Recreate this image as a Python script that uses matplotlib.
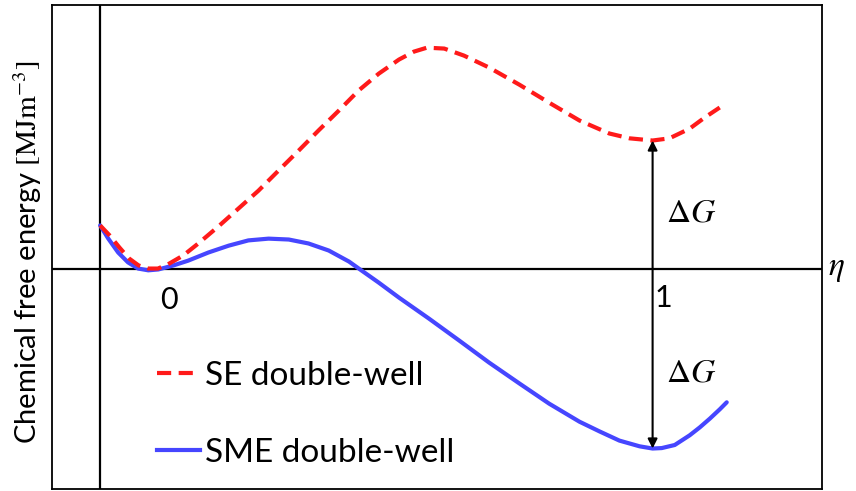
import numpy as np
import matplotlib
matplotlib.use("Agg")
import matplotlib.pyplot as plt
from matplotlib.lines import Line2D

plt.rcParams['font.family'] = ['Lato', 'DejaVu Sans']
plt.rcParams['mathtext.fontset'] = 'stix'

# Order parameter eta and chemical free energy of the two double-well forms
se_eta = [-0.10, -0.08, -0.06, -0.04, -0.02, 0.00, 0.02, 0.04, 0.073, 0.104,
          0.146, 0.1875, 0.229, 0.271, 0.3125, 0.354, 0.396, 0.4375, 0.479,
          0.521, 0.552, 0.579, 0.615, 0.656, 0.708, 0.771, 0.833, 0.896,
          0.958, 1.00, 1.048, 1.083, 1.125, 1.156, 1.1875]
se_energy = [0.99, 0.76, 0.49, 0.24, 0.08, 0.01, 0.01, 0.10, 0.31, 0.58,
             0.97, 1.375, 1.78, 2.24, 2.69, 3.15, 3.60, 4.06, 4.44,
             4.76, 4.94, 5.03, 5.01, 4.85, 4.58, 4.19, 3.78, 3.375,
             3.08, 2.97, 2.92, 2.97, 3.19, 3.44, 3.67]

sme_eta = [-0.10, -0.083, -0.0625, -0.042, -0.021, 0.00, 0.021, 0.052, 0.083,
           0.125, 0.167, 0.208, 0.25, 0.292, 0.333, 0.375, 0.417, 0.4375,
           0.479, 0.521, 0.583, 0.646, 0.708, 0.771, 0.833, 0.896, 0.9375,
           0.979, 1.021, 1.048, 1.067, 1.094, 1.125, 1.146, 1.167, 1.1875,
           1.202]
sme_energy = [0.99, 0.69, 0.375, 0.15, 0.01, -0.03, -0.01, 0.08, 0.19,
              0.375, 0.53, 0.65, 0.69, 0.67, 0.58, 0.42, 0.17, 0.01,
              -0.31, -0.65, -1.125, -1.625, -2.125, -2.60, -3.06, -3.47, -3.69,
              -3.90, -4.03, -4.08, -4.07, -4.00, -3.78, -3.60, -3.40, -3.19,
              -3.03]

series_labels = ["SE double-well", "SME double-well"]
tick_labels = ["0", "1"]

red = "#ff1a1a"
blue = "#4646ff"

fig = plt.figure(figsize=(8.56, 4.91), dpi=100)
ax = fig.add_axes([52 / 856, 2 / 491, 770 / 856, 484 / 491])
ax.set_xlim(-0.2, 1.4)
ax.set_ylim(-5, 6)
ax.set_xticks([])
ax.set_yticks([])
for s in ax.spines.values():
    s.set_linewidth(1.3)
    s.set_color("black")

# coordinate axes through the origin of the diagram
ax.axhline(0, color="black", lw=1.6, zorder=1)
ax.axvline(-0.1, color="black", lw=1.6, zorder=1)

ax.plot(sme_eta, sme_energy, color=blue, lw=3.0, solid_capstyle="round",
        solid_joinstyle="round", zorder=3)
ax.plot(se_eta, se_energy, color=red, lw=3.0, dashes=(3.4, 1.8), zorder=4)

# driving force arrows at the second well
i_se = int(np.argmin(se_energy[20:])) + 20
i_sme = int(np.argmin(sme_energy))
arrow_kw = dict(arrowstyle="-|>", color="black", lw=1.5,
                mutation_scale=14, shrinkA=0, shrinkB=0)
ax.annotate("", xy=(se_eta[i_se], se_energy[i_se]), xytext=(se_eta[i_se], 0),
            arrowprops=arrow_kw, zorder=5)
ax.annotate("", xy=(sme_eta[i_sme], sme_energy[i_sme]), xytext=(sme_eta[i_sme], 0),
            arrowprops=arrow_kw, zorder=5)

ax.text(1.075, 1.28, r"$\Delta G$", fontsize=24, ha="left", va="center")
ax.text(1.075, -2.35, r"$\Delta G$", fontsize=24, ha="left", va="center")

ax.text(1.4 + 0.012, 0.0, r"$\eta$", fontsize=24, ha="left", va="center",
        clip_on=False)

ax.text(0.042, -0.7, tick_labels[0], fontsize=22, ha="center", va="center")
ax.text(1.07, -0.65, tick_labels[1], fontsize=22, ha="center", va="center")

handles = [Line2D([], [], color=red, lw=3.0, dashes=(3.4, 1.8)),
           Line2D([], [], color=blue, lw=3.0)]
ax.legend(handles, series_labels, loc="center left",
          bbox_to_anchor=(0.136, 0.154), frameon=False, fontsize=24,
          handlelength=1.3, handletextpad=0.15, labelspacing=1.4,
          borderaxespad=0.0, borderpad=0.0)

fig.text(28 / 856, 1 - 252 / 491,
         r"Chemical free energy $[\mathrm{MJm}^{-3}]$",
         rotation=90, fontsize=21, ha="center", va="center")

fig.savefig("out.png", dpi=100)
